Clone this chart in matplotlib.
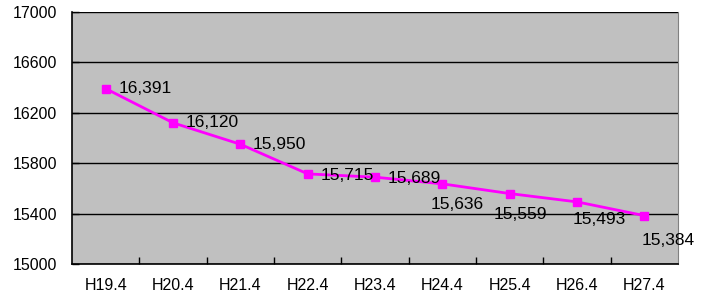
import matplotlib
matplotlib.use("Agg")
import matplotlib.pyplot as plt

# data
categories = ["H19.4", "H20.4", "H21.4", "H22.4", "H23.4", "H24.4", "H25.4", "H26.4", "H27.4"]
values = [16391, 16120, 15950, 15715, 15689, 15636, 15559, 15493, 15384]
yticks = [15000, 15400, 15800, 16200, 16600, 17000]

# label offsets in points (layout only)
offsets = [(9, 0), (9, 0), (9, 0), (9, -1), (9, -1), (11, -15), (8, -15), (16, -13), (17, -18)]
aligns = ["left", "left", "left", "left", "left", "center", "center", "center", "center"]

plt.rcParams['font.family'] = ['Liberation Sans', 'DejaVu Sans']

fig = plt.figure(figsize=(7.07, 2.98), dpi=100)
ax = fig.add_axes([0.102, 0.114, 0.857, 0.846])
ax.set_facecolor("#c0c0c0")

x = list(range(len(categories)))
ax.plot(x, values, color="#ff00ff", lw=2, marker="s", ms=6, zorder=3)

for i, v in enumerate(values):
    ax.annotate(f"{v:,}", (i, v), xytext=offsets[i], textcoords="offset points",
                ha=aligns[i], va="center", fontsize=12.5, color="black", zorder=4)

ax.set_xlim(-0.5, len(categories) - 0.5)
ax.set_ylim(15000, 17000)
ax.set_yticks(yticks)
ax.set_yticklabels([str(t) for t in yticks], fontsize=11.5)
ax.set_xticks(x)
ax.set_xticklabels(categories, fontsize=11.5)
ax.tick_params(axis="x", length=0, pad=10)
ax.set_xticks([i + 0.5 for i in x[:-1]], minor=True)
ax.tick_params(axis="x", which="minor", direction="in", length=5, width=1, color="black")
ax.tick_params(axis="y", direction="in", length=5, width=1, pad=11, color="black")
ax.yaxis.grid(True, color="black", lw=1)
ax.set_axisbelow(True)

for s in ["left", "bottom"]:
    ax.spines[s].set_color("black")
    ax.spines[s].set_linewidth(1.2)
ax.spines["right"].set_color("#808080")
ax.spines["top"].set_visible(False)

fig.savefig("out.png", dpi=100)
